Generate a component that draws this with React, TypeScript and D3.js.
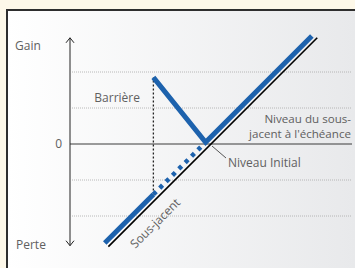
import React, { useEffect, useRef } from 'react';
import * as d3 from 'd3';

const W = 355;
const H = 268;

// performance of the underlying (x) vs gain / loss (y), in %
const gridLevels = [-40, -20, 20, 40];
const underlyingLine: [number, number][] = [
  [-57, -57],
  [59, 59],
];
const productBelow: [number, number][] = [
  [-59, -55],
  [-32, -28],
];
const productDotted: [number, number][] = [
  [-32, -28],
  [-3, 1],
];
const productV: [number, number][] = [
  [-32, 37],
  [-3, 1],
  [56, 60],
];
const barrierLevel = -32;
const barrierRange = [-28, 37];
const axisRange = [-56.5, 59];

const blue = '#1d62ad';
const textColor = '#606060';

export default function App() {
  const ref = useRef<SVGSVGElement>(null);

  useEffect(() => {
    if (!ref.current) return;
    const svg = d3.select(ref.current);
    svg.selectAll('*').remove();

    const x = d3.scaleLinear().domain([-78.3, 78.3]).range([70, 352]);
    const y = d3.scaleLinear().domain([-40, 40]).range([216, 72]);

    const defs = svg.append('defs');
    const grad = defs
      .append('linearGradient')
      .attr('id', 'bg')
      .attr('x1', '0%')
      .attr('x2', '100%');
    grad.append('stop').attr('offset', '0%').attr('stop-color', '#ffffff');
    grad.append('stop').attr('offset', '100%').attr('stop-color', '#e8e9eb');

    svg.append('rect').attr('width', W).attr('height', H).attr('fill', '#fdf8e9');
    svg
      .append('rect')
      .attr('x', 7)
      .attr('y', 10)
      .attr('width', W - 7)
      .attr('height', H - 10)
      .attr('fill', 'url(#bg)');
    svg
      .append('path')
      .attr('d', `M7,${H}V10H${W}`)
      .attr('fill', 'none')
      .attr('stroke', '#2e2e2e')
      .attr('stroke-width', 2);

    const line = d3
      .line<[number, number]>()
      .x((d) => x(d[0]))
      .y((d) => y(d[1]));

    const [x0, x1] = x.domain();

    // dotted grid lines
    svg
      .selectAll('line.grid')
      .data(gridLevels)
      .enter()
      .append('line')
      .attr('class', 'grid')
      .attr('x1', x(x0) + 2)
      .attr('x2', x(x1))
      .attr('y1', (d) => y(d))
      .attr('y2', (d) => y(d))
      .attr('stroke', '#a8a8a8')
      .attr('stroke-width', 0.8)
      .attr('stroke-dasharray', '1,1');

    // zero line
    svg
      .append('line')
      .attr('x1', x(x0))
      .attr('x2', x(x1))
      .attr('y1', y(0))
      .attr('y2', y(0))
      .attr('stroke', '#3a3a3a')
      .attr('stroke-width', 1);

    // y axis with arrows
    const ax = x(x0);
    const yTop = y(axisRange[1]);
    const yBot = y(axisRange[0]);
    svg
      .append('line')
      .attr('x1', ax)
      .attr('x2', ax)
      .attr('y1', yTop)
      .attr('y2', yBot)
      .attr('stroke', '#222')
      .attr('stroke-width', 1);
    svg
      .append('path')
      .attr('d', `M${ax - 4},${yTop + 5}L${ax},${yTop}L${ax + 4},${yTop + 5}`)
      .attr('fill', 'none')
      .attr('stroke', '#222');
    svg
      .append('path')
      .attr('d', `M${ax - 4},${yBot - 5}L${ax},${yBot}L${ax + 4},${yBot - 5}`)
      .attr('fill', 'none')
      .attr('stroke', '#222');

    // barrier dashed line
    svg
      .append('line')
      .attr('x1', x(barrierLevel))
      .attr('x2', x(barrierLevel))
      .attr('y1', y(barrierRange[0]))
      .attr('y2', y(barrierRange[1]))
      .attr('stroke', '#222')
      .attr('stroke-width', 1.3)
      .attr('stroke-dasharray', '2,2');

    // product payoff
    svg
      .append('path')
      .attr('d', line(productBelow))
      .attr('fill', 'none')
      .attr('stroke', blue)
      .attr('stroke-width', 5);
    svg
      .append('path')
      .attr('d', line(productDotted))
      .attr('fill', 'none')
      .attr('stroke', blue)
      .attr('stroke-width', 4.5)
      .attr('stroke-dasharray', '4,5');
    svg
      .append('path')
      .attr('d', line(productV))
      .attr('fill', 'none')
      .attr('stroke', blue)
      .attr('stroke-width', 5)
      .attr('stroke-linejoin', 'miter');

    // underlying
    svg
      .append('path')
      .attr('d', line(underlyingLine))
      .attr('fill', 'none')
      .attr('stroke', '#000')
      .attr('stroke-width', 1.6);

    // leader for Niveau Initial
    svg
      .append('line')
      .attr('x1', x(0) + 1)
      .attr('y1', y(0) + 2)
      .attr('x2', x(0) + 15)
      .attr('y2', y(0) + 14)
      .attr('stroke', '#555')
      .attr('stroke-width', 1);

    const font = "'Open Sans', 'Noto Sans', sans-serif";
    const label = (tx: number, ty: number, s: string, anchor = 'start', size = 12) =>
      svg
        .append('text')
        .attr('x', tx)
        .attr('y', ty)
        .attr('text-anchor', anchor)
        .attr('font-family', font)
        .attr('font-size', size)
        .attr('fill', textColor)
        .text(s);

    label(15, 50, 'Gain');
    label(16, 249, 'Perte');
    label(62, y(0) + 4, '0', 'end');
    label(140, 102, 'Barrière', 'end');
    label(351, 122.5, 'Niveau du sous-', 'end', 11.6);
    label(351, 138, "jacent à l'échéance", 'end', 11.6);
    label(x(0) + 17, 167, 'Niveau Initial');

    svg
      .append('text')
      .attr('transform', `translate(${x(-31) + 3},${y(-44) + 3}) rotate(-45)`)
      .attr('text-anchor', 'middle')
      .attr('font-family', font)
      .attr('font-size', 12)
      .attr('fill', textColor)
      .text('Sous-jacent');
  }, []);

  return (
    <div style={{ position: 'fixed', left: 0, top: 0 }}>
      <svg ref={ref} width={W} height={H} style={{ display: 'block' }} />
    </div>
  );
}
